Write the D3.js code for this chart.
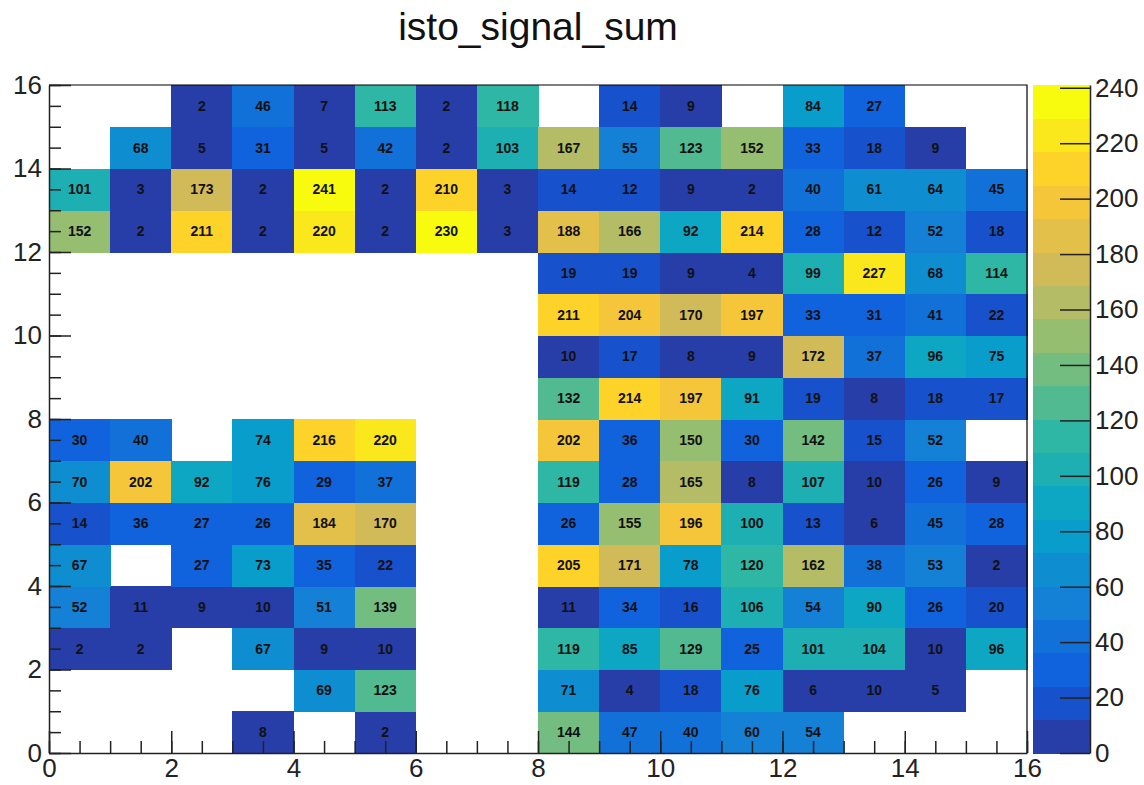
<!DOCTYPE html>
<html>
<head>
<meta charset="utf-8">
<script src="https://cdn.jsdelivr.net/npm/d3@7"></script>
<style>
  body { margin: 0; background: #fff; }
  svg { display: block; font-family: "Liberation Sans", Arial, Helvetica, sans-serif; }
</style>
</head>
<body>
<div id="chart"></div>
<script>
const title = 'isto_signal_sum';

// bin contents, one array per y row (y = 0 .. 15), x bins 0 .. 15; null = empty bin
const row0  = [null, null, null, 8, null, 2, null, null, 144, 47, 40, 60, 54, null, null, null];
const row1  = [null, null, null, null, 69, 123, null, null, 71, 4, 18, 76, 6, 10, 5, null];
const row2  = [2, 2, null, 67, 9, 10, null, null, 119, 85, 129, 25, 101, 104, 10, 96];
const row3  = [52, 11, 9, 10, 51, 139, null, null, 11, 34, 16, 106, 54, 90, 26, 20];
const row4  = [67, null, 27, 73, 35, 22, null, null, 205, 171, 78, 120, 162, 38, 53, 2];
const row5  = [14, 36, 27, 26, 184, 170, null, null, 26, 155, 196, 100, 13, 6, 45, 28];
const row6  = [70, 202, 92, 76, 29, 37, null, null, 119, 28, 165, 8, 107, 10, 26, 9];
const row7  = [30, 40, null, 74, 216, 220, null, null, 202, 36, 150, 30, 142, 15, 52, null];
const row8  = [null, null, null, null, null, null, null, null, 132, 214, 197, 91, 19, 8, 18, 17];
const row9  = [null, null, null, null, null, null, null, null, 10, 17, 8, 9, 172, 37, 96, 75];
const row10 = [null, null, null, null, null, null, null, null, 211, 204, 170, 197, 33, 31, 41, 22];
const row11 = [null, null, null, null, null, null, null, null, 19, 19, 9, 4, 99, 227, 68, 114];
const row12 = [152, 2, 211, 2, 220, 2, 230, 3, 188, 166, 92, 214, 28, 12, 52, 18];
const row13 = [101, 3, 173, 2, 241, 2, 210, 3, 14, 12, 9, 2, 40, 61, 64, 45];
const row14 = [null, 68, 5, 31, 5, 42, 2, 103, 167, 55, 123, 152, 33, 18, 9, null];
const row15 = [null, null, 2, 46, 7, 113, 2, 118, null, 14, 9, null, 84, 27, null, null];
const rows = [row0, row1, row2, row3, row4, row5, row6, row7, row8, row9, row10, row11, row12, row13, row14, row15];

const xTicks = [0, 2, 4, 6, 8, 10, 12, 14, 16];
const yTicks = [0, 2, 4, 6, 8, 10, 12, 14, 16];
const zTicks = [0, 20, 40, 60, 80, 100, 120, 140, 160, 180, 200, 220, 240];
const zMin = 0;
const zMax = 241;
const nContours = 20;

// ROOT kBird palette stops
const birdStops = [0.0000, 0.1250, 0.2500, 0.3750, 0.5000, 0.6250, 0.7500, 0.8750, 1.0000];
const birdR = [0.2082, 0.0592, 0.0780, 0.0232, 0.1802, 0.5301, 0.8186, 0.9956, 0.9764];
const birdG = [0.1664, 0.3599, 0.5041, 0.6419, 0.7178, 0.7492, 0.7328, 0.7862, 0.9832];
const birdB = [0.5293, 0.8684, 0.8385, 0.7914, 0.6425, 0.4662, 0.3499, 0.1968, 0.0539];

const cells = [];
rows.forEach((r, j) => r.forEach((v, i) => {
    if (v !== null) cells.push({ x: i, y: j, v: v });
}));

const width = 1144, height = 785;
const svg = d3.select('#chart').append('svg')
    .attr('width', width)
    .attr('height', height);

const x = d3.scaleLinear().domain([0, 16]).range([49, 1027]);
const y = d3.scaleLinear().domain([0, 16]).range([753, 85]);

const bird = d3.scaleLinear()
    .domain(birdStops)
    .range(birdStops.map((s, k) => d3.rgb(birdR[k] * 255, birdG[k] * 255, birdB[k] * 255)))
    .interpolate(d3.interpolateRgb);

// one colour per contour band, picked like ROOT does from a 255 colour table
const bandColors = d3.range(nContours).map(i => bird(Math.floor((i + 0.99) * 255 / nContours) / 254));
const band = d3.scaleLinear().domain([zMin, zMax]).range([0, nContours]);
const color = v => bandColors[Math.min(nContours - 1, Math.floor(0.01 + band(v)))];

// cells
svg.append('g')
    .attr('shape-rendering', 'crispEdges')
    .selectAll('rect')
    .data(cells)
    .join('rect')
    .attr('x', d => x(d.x))
    .attr('y', d => y(d.y + 1))
    .attr('width', d => x(d.x + 1) - x(d.x) + 0.5)
    .attr('height', d => y(d.y) - y(d.y + 1) + 0.5)
    .attr('fill', d => color(d.v));

svg.append('g')
    .selectAll('text')
    .data(cells)
    .join('text')
    .attr('x', d => x(d.x + 0.5))
    .attr('y', d => y(d.y + 0.5))
    .attr('dy', '0.36em')
    .attr('text-anchor', 'middle')
    .attr('font-size', '14px')
    .attr('font-weight', 'bold')
    .attr('fill', '#111')
    .text(d => d.v);

// frame (top and right)
svg.append('path')
    .attr('d', `M${x(0)},${y(16)}H${x(16)}V${y(0)}`)
    .attr('fill', 'none')
    .attr('stroke', '#000')
    .attr('stroke-width', 1.2);

// x axis
const xMinor = svg.append('g')
    .attr('transform', `translate(0,${y(0)})`)
    .call(d3.axisBottom(x).tickValues(d3.range(0, 16.01, 0.5)).tickSize(-12).tickFormat(''));
xMinor.select('.domain').remove();

const xAxis = svg.append('g')
    .attr('transform', `translate(0,${y(0)})`)
    .call(d3.axisBottom(x).tickValues(xTicks).tickSizeInner(-22).tickSizeOuter(0).tickPadding(6).tickFormat(d3.format('d')));
xAxis.selectAll('text').attr('font-size', '26px').attr('fill', '#222').attr('font-family', '"Liberation Sans", Arial, sans-serif');

// y axis
const yMinor = svg.append('g')
    .attr('transform', `translate(${x(0)},0)`)
    .call(d3.axisLeft(y).tickValues(d3.range(0, 16.01, 0.5)).tickSize(-12).tickFormat(''));
yMinor.select('.domain').remove();

const yAxis = svg.append('g')
    .attr('transform', `translate(${x(0)},0)`)
    .call(d3.axisLeft(y).tickValues(yTicks).tickSizeInner(-22).tickSizeOuter(0).tickPadding(7).tickFormat(d3.format('d')));
yAxis.selectAll('text').attr('font-size', '26px').attr('fill', '#222').attr('font-family', '"Liberation Sans", Arial, sans-serif');

svg.selectAll('.tick line, .domain').attr('stroke', '#222').attr('stroke-width', 1.5);

// colour bar
const barX0 = 1033, barX1 = 1090;
const z = d3.scaleLinear().domain([zMin, zMax]).range([753, 85]);
const bandEdges = d3.range(nContours + 1).map(i => band.invert(i));

svg.append('g')
    .attr('shape-rendering', 'crispEdges')
    .selectAll('rect')
    .data(bandColors)
    .join('rect')
    .attr('x', barX0)
    .attr('width', barX1 - barX0)
    .attr('y', (c, i) => z(bandEdges[i + 1]))
    .attr('height', (c, i) => z(bandEdges[i]) - z(bandEdges[i + 1]) + 0.5)
    .attr('fill', c => c);

const zAxis = svg.append('g')
    .attr('transform', `translate(${barX1},0)`)
    .call(d3.axisRight(z).tickValues(zTicks).tickSizeInner(-30).tickSizeOuter(0).tickPadding(5).tickFormat(d3.format('d')));
zAxis.selectAll('text').attr('font-size', '26px').attr('fill', '#222').attr('font-family', '"Liberation Sans", Arial, sans-serif');
zAxis.selectAll('.tick line, .domain').attr('stroke', '#222').attr('stroke-width', 1.5);

// title
svg.append('text')
    .attr('x', 538)
    .attr('y', 40)
    .attr('text-anchor', 'middle')
    .attr('font-size', '39px')
    .attr('fill', '#111')
    .text(title);
</script>
</body>
</html>
